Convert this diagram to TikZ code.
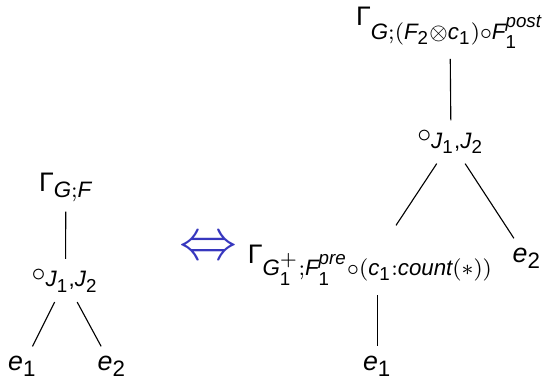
\documentclass[tikz,border=0pt]{standalone}
\usepackage{amsmath}
\usepackage{fontspec}
\setmainfont{Liberation Sans}
\usepackage[italic]{mathastext}
\usetikzlibrary{positioning}
\definecolor{iffblue}{RGB}{55,55,190}
\newcommand{\Gm}{\text{Γ}}
\newcommand{\dg}[1]{\textup{#1}}

\begin{document}
\begin{tikzpicture}[font=\fontsize{9.6}{11.5}\selectfont, branch/.style={draw, line width=0.4pt}]
  \useasboundingbox (0,0) rectangle (6.842,4.775);

  % linker Baum
  \node (gL) at (0.83,2.415) {$\Gm_{G;F}$};
  \node (oL) at (0.825,1.241) {$\circ_{J_{\dg1},J_{\dg2}}$};
  \node (e1L) at (0.284,0.158) {$e_{\dg1}$};
  \node (e2L) at (1.411,0.158) {$e_{\dg2}$};
  \path[branch] (gL) -- (oL);
  \path[branch] (oL) -- (e1L);
  \path[branch] (oL) -- (e2L);

  % Aequivalenz
  \node[text=iffblue, font=\huge] (iff) at (2.62,1.638) {$\Leftrightarrow$};

  % rechter Baum
  \node (gR) at (5.67,4.423) {$\Gm_{G;(F_{\dg2}\otimes c_{\dg1})\circ F_{\dg1}^{post}}$};
  \node (oR) at (5.683,2.986) {$\circ_{J_{\dg1},J_{\dg2}}$};
  \node (gR2) at (4.67,1.436) {$\Gm_{G_{\dg1}^+;F_{\dg1}^{pre}\circ(c_{\dg1}:count(\ast))}$};
  \node (e2R) at (6.64,1.52) {$e_{\dg2}$};
  \node (e1R) at (4.756,0.158) {$e_{\dg1}$};
  \path[branch] (gR) -- (oR);
  \path[branch] (oR) -- ([xshift=0.32cm, yshift=0.12cm]gR2.north);
  \path[branch] (oR) -- (e2R);
  \path[branch] (gR2.south -| e1R) -- (e1R);
\end{tikzpicture}
\end{document}
